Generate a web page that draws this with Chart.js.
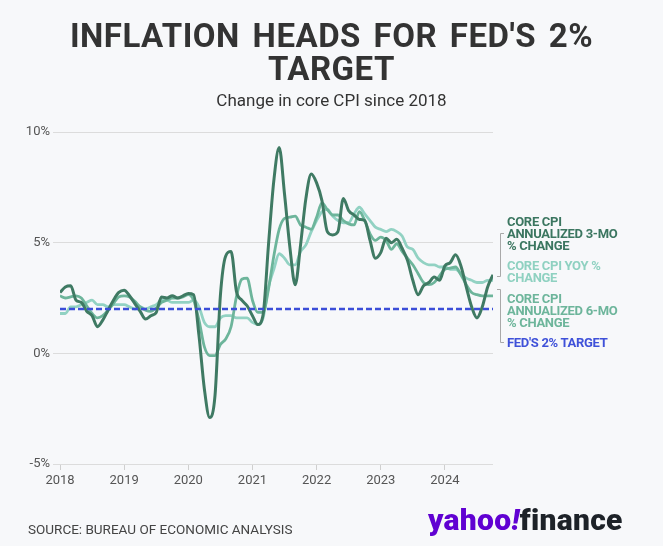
<!DOCTYPE html>
<html>
<head>
<meta charset="utf-8">
<script src="https://cdn.jsdelivr.net/npm/chart.js@4.4.1/dist/chart.umd.min.js"></script>
<style>
  body { margin: 0; background: #f7f8fa; font-family: Roboto, "Open Sans", sans-serif; }
  #wrap { position: relative; width: 663px; height: 546px; overflow: hidden; background: #f7f8fa; }
  #chart { position: absolute; left: 0; top: 0; }
  .title { position: absolute; left: 0; top: 19px; width: 663px; text-align: center;
           font-size: 33px; line-height: 33px; font-weight: 700; color: #333;
           letter-spacing: 0.5px; word-spacing: 4px; }
  .subtitle { position: absolute; left: 0; top: 92px; width: 663px; text-align: center;
              font-size: 17px; line-height: 16px; color: #333; }
  .lbl { position: absolute; left: 507px; font-size: 13px; line-height: 12px; font-weight: 700;
         letter-spacing: -0.3px; white-space: nowrap; }
  .source { position: absolute; left: 28px; top: 523px; font-size: 13.5px; line-height: 13px; color: #444; }
  .logo { position: absolute; left: 428px; top: 505px; font-size: 30px; line-height: 30px;
          font-weight: 900; letter-spacing: 0.3px; white-space: nowrap; }
  .logo .y { color: #6001d2; }
  .logo .f { color: #1d2228; }
</style>
</head>
<body>
<div id="wrap">
  <canvas id="chart" width="663" height="546"></canvas>
  <div class="title">INFLATION HEADS FOR FED'S 2%<br>TARGET</div>
  <div class="subtitle">Change in core CPI since 2018</div>
  <div class="lbl" style="top:216px;color:#3b7660">CORE CPI<br>ANNUALIZED 3-MO<br>% CHANGE</div>
  <div class="lbl" style="top:260px;color:#8fd1c1">CORE CPI YOY %<br>CHANGE</div>
  <div class="lbl" style="top:293px;color:#6db59b">CORE CPI<br>ANNUALIZED 6-MO<br>% CHANGE</div>
  <div class="lbl" style="top:337px;color:#3f51d9">FED'S 2% TARGET</div>
  <div class="source">SOURCE: BUREAU OF ECONOMIC ANALYSIS</div>
  <div class="logo"><span class="y">yahoo<i>!</i></span><span class="f">finance</span></div>
</div>
<script>
// monthly, Jan 2018 .. Oct 2024
const yearLabels = ['2018', '2019', '2020', '2021', '2022', '2023', '2024'];
const yTicks = [-5, 0, 5, 10];
const fedTarget = 2;

const core3mo = [
  2.75, 3.0, 3.05, 2.4, 2.3, 1.9, 1.7, 1.2, 1.5, 1.95, 2.4, 2.75,
  2.85, 2.6, 2.25, 1.9, 1.55, 1.7, 1.85, 2.55, 2.5, 2.6, 2.5, 2.6,
  2.7, 2.65, 0.8, -1.6, -2.9, -1.9, 2.6, 4.4, 4.6, 2.8, 2.4, 2.15,
  1.7, 1.3, 1.75, 4.9, 7.8, 9.3, 7.2, 4.8, 3.1, 4.9, 7.0, 8.1,
  7.7, 6.9, 5.5, 5.35, 5.5, 7.0, 6.45, 6.25, 6.05, 6.0, 5.1, 4.3,
  4.55, 5.2, 5.0, 5.15, 4.75, 4.2, 3.3, 2.65, 3.05, 3.2, 3.45, 3.3,
  3.95, 4.1, 4.45, 3.95, 3.0, 2.1, 1.6, 2.1, 3.0, 3.55
];

const coreYoy = [
  1.8, 1.8, 2.1, 2.1, 2.2, 2.3, 2.4, 2.2, 2.2, 2.1, 2.2, 2.2,
  2.2, 2.1, 2.0, 2.1, 2.0, 2.1, 2.2, 2.4, 2.4, 2.3, 2.3, 2.3,
  2.3, 2.4, 2.1, 1.4, 1.2, 1.2, 1.6, 1.7, 1.7, 1.6, 1.6, 1.6,
  1.4, 1.3, 1.6, 3.0, 3.8, 4.5, 4.3, 4.0, 4.0, 4.6, 4.9, 5.5,
  6.0, 6.4, 6.5, 6.2, 6.0, 5.9, 5.9, 6.3, 6.6, 6.3, 6.0, 5.7,
  5.6, 5.5, 5.6, 5.5, 5.3, 4.8, 4.7, 4.3, 4.1, 4.0, 4.0, 3.9,
  3.9, 3.8, 3.8, 3.6, 3.4, 3.3, 3.2, 3.2, 3.3, 3.3
];

const core6mo = [
  2.6, 2.5, 2.55, 2.6, 2.5, 2.15, 1.8, 1.6, 1.7, 1.95, 2.25, 2.55,
  2.6, 2.55, 2.35, 2.1, 1.95, 1.9, 2.05, 2.3, 2.4, 2.5, 2.5, 2.55,
  2.65, 2.4, 1.5, 0.3, -0.1, -0.1, 0.4, 0.65, 1.2, 2.55, 3.35, 3.4,
  2.4, 1.85, 1.85, 2.9, 4.4, 5.6, 6.1, 6.15, 6.2, 5.8, 5.7, 5.6,
  6.15, 6.8, 6.5, 6.25, 6.25, 6.0, 5.85, 5.8, 6.4, 6.0, 5.4, 5.1,
  5.25, 5.1, 4.7, 4.95, 4.6, 4.3, 4.0, 3.6, 3.2, 3.1, 3.2, 3.5,
  3.8, 3.85, 3.9, 3.55, 3.1, 2.75, 2.65, 2.6, 2.6, 2.6
];

const lastIdx = core3mo.length - 1;
const pts = arr => arr.map((v, i) => ({ x: i, y: v }));

const brackets = {
  id: 'brackets',
  afterDraw(c) {
    const ctx = c.ctx;
    ctx.save();
    ctx.strokeStyle = '#a9a9a9';
    ctx.lineWidth = 1;
    ctx.beginPath();
    ctx.moveTo(504, 233.5); ctx.lineTo(500.5, 233.5); ctx.lineTo(500.5, 276.5); ctx.lineTo(497, 276.5);
    ctx.moveTo(497, 289.5); ctx.lineTo(500.5, 289.5); ctx.lineTo(500.5, 342.5); ctx.lineTo(504, 342.5);
    ctx.stroke();
    ctx.restore();
  }
};

new Chart(document.getElementById('chart'), {
  type: 'line',
  data: {
    datasets: [
      { label: "FED'S 2% TARGET", data: [{ x: 0, y: fedTarget }, { x: lastIdx, y: fedTarget }],
        borderColor: '#3b4ed8', borderWidth: 2.5, borderDash: [6, 3], pointRadius: 0 },
      { label: 'CORE CPI ANNUALIZED 3-MO % CHANGE', data: pts(core3mo),
        borderColor: '#3f7a63', borderWidth: 3, pointRadius: 0, cubicInterpolationMode: 'monotone' },
      { label: 'CORE CPI ANNUALIZED 6-MO % CHANGE', data: pts(core6mo),
        borderColor: '#6db59b', borderWidth: 2.8, pointRadius: 0, cubicInterpolationMode: 'monotone' },
      { label: 'CORE CPI YOY % CHANGE', data: pts(coreYoy),
        borderColor: '#92d2c3', borderWidth: 2.8, pointRadius: 0, cubicInterpolationMode: 'monotone' }
    ]
  },
  options: {
    responsive: false,
    animation: false,
    layout: { padding: { top: 132, right: 170, bottom: 52, left: 0 } },
    plugins: { legend: { display: false }, tooltip: { enabled: false } },
    scales: {
      x: {
        type: 'linear', min: 0, max: lastIdx,
        afterBuildTicks: s => { s.ticks = yearLabels.map((_, i) => ({ value: i * 12 })); },
        afterFit: s => { s.height = 30; },
        ticks: { callback: v => yearLabels[v / 12], color: '#555', font: { family: 'Roboto', size: 13 },
                 padding: 3, maxRotation: 0, autoSkip: false },
        grid: { drawOnChartArea: false, drawTicks: true, tickLength: 6, color: '#cfcfcf' },
        border: { display: false }
      },
      y: {
        min: -5, max: 10,
        afterBuildTicks: s => { s.ticks = yTicks.map(v => ({ value: v })); },
        afterFit: s => { s.width = 60; },
        ticks: { callback: v => v + '%', color: '#555', font: { family: 'Roboto', size: 13 }, padding: 3 },
        grid: { color: '#dcdcdc', tickLength: 7 },
        border: { display: false }
      }
    }
  },
  plugins: [brackets]
});
</script>
</body>
</html>
